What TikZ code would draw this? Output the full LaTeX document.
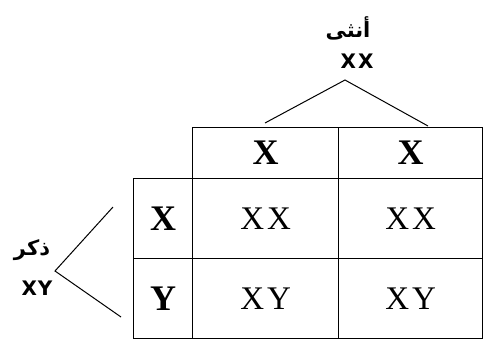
\documentclass[tikz,border=0pt]{standalone}
\usepackage{fontspec}
\setmainfont{Liberation Serif}
\newfontfamily\arabicfont[Script=Arabic]{DejaVu Sans}
\newfontfamily\labsans{DejaVu Sans}
\TeXXeTstate=1
\begin{document}
\begin{tikzpicture}[x=1pt,y=-1pt,
  cell/.style={draw,line width=1.3pt,inner sep=0pt,anchor=north west},
  headtxt/.style={font=\fontsize{36}{36}\selectfont\bfseries},
  bodytxt/.style={font=\fontsize{33}{33}\selectfont},
  lab/.style={font=\labsans\bfseries\fontsize{20}{20}\selectfont},
  arab/.style={font=\arabicfont\bfseries\fontsize{21}{21}\selectfont},
  conn/.style={line width=1pt}]
\useasboundingbox (0,0) rectangle (483,340);
% header row
\node[cell,minimum width=146pt,minimum height=51pt] (h1) at (192,127) {};
\node[cell,minimum width=144pt,minimum height=51pt] (h2) at (338,127) {};
% left column
\node[cell,minimum width=59pt,minimum height=80pt] (r1) at (133,178) {};
\node[cell,minimum width=59pt,minimum height=80pt] (r2) at (133,258) {};
% body cells
\node[cell,minimum width=146pt,minimum height=80pt] (c11) at (192,178) {};
\node[cell,minimum width=144pt,minimum height=80pt] (c12) at (338,178) {};
\node[cell,minimum width=146pt,minimum height=80pt] (c21) at (192,258) {};
\node[cell,minimum width=144pt,minimum height=80pt] (c22) at (338,258) {};
% texts
\node[headtxt] (th1) at (h1.center) {X};
\node[headtxt] (th2) at (h2.center) {X};
\node[headtxt] (tr1) at (r1.center) {X};
\node[headtxt] (tr2) at (r2.center) {Y};
\node[bodytxt] (t11) at (c11.center) {X\kern3pt X};
\node[bodytxt] (t12) at (c12.center) {X\kern3pt X};
\node[bodytxt] (t21) at (c21.center) {X\kern3pt Y};
\node[bodytxt] (t22) at (c22.center) {X\kern3pt Y};
% parent labels
\node[arab] (fem) at (348,28) {\beginR أنثى\endR};
\node[lab] (femg) at (357,61) {X\kern2pt X};
\node[arab] (mal) at (32,250) {\beginR ذكر\endR};
\node[lab] (malg) at (37,288) {X\kern1pt Y};
% connectors
\coordinate (fa) at (345,80);
\coordinate (fl) at (265,123);
\coordinate (fr) at (428,126);
\coordinate (ma) at (55,271);
\coordinate (mu) at (113,207);
\coordinate (md) at (121,317);
\draw[conn] (fl) -- (fa) -- (fr);
\draw[conn] (mu) -- (ma) -- (md);
\end{tikzpicture}
\end{document}
